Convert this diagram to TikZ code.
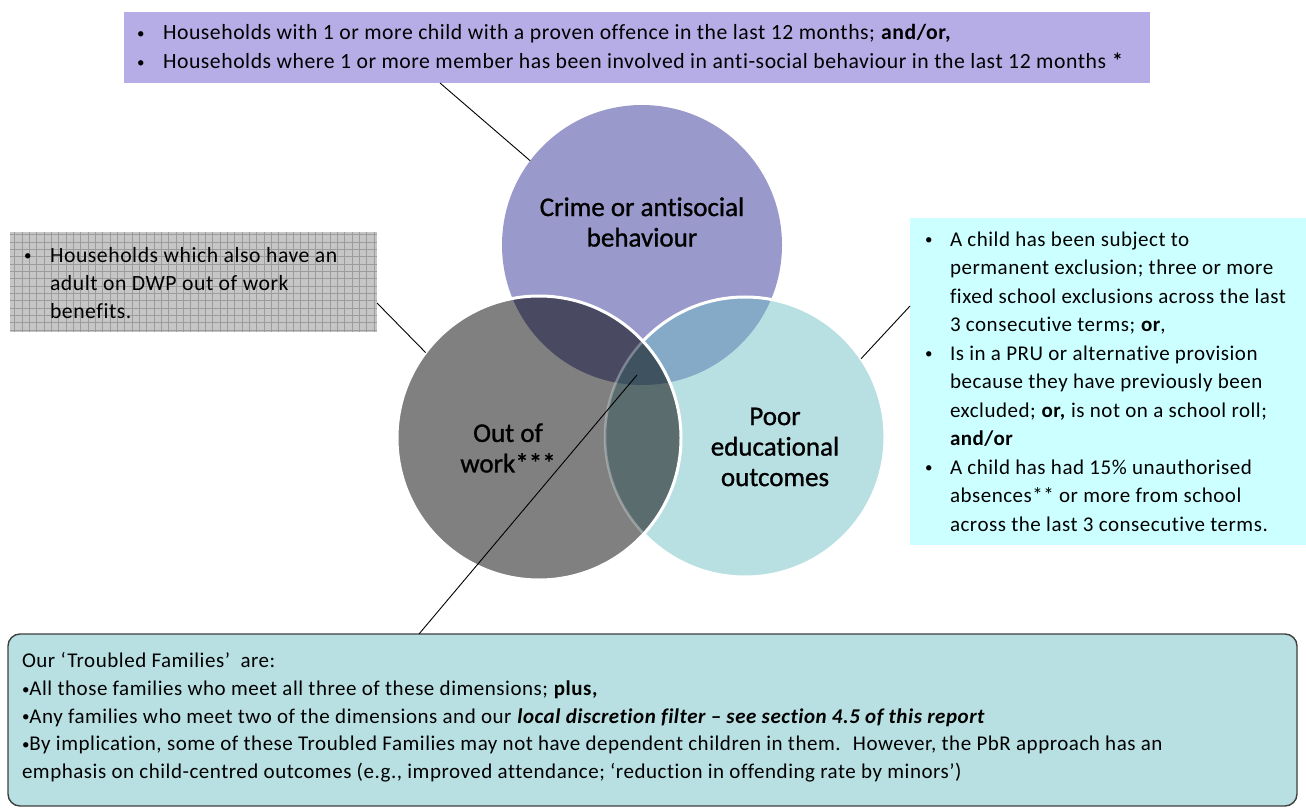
\documentclass[tikz,border=0pt]{standalone}
\usepackage{fontspec}
\setmainfont{Carlito}[LetterSpace=2.5, Ligatures=NoCommon]
\newfontfamily\circfont[FakeBold=1, Ligatures=NoCommon]{Carlito}
\definecolor{topcol}{HTML}{B6ADE6}
\definecolor{crimecol}{HTML}{9A99CB}
\definecolor{outcol}{HTML}{808080}
\definecolor{poorcol}{HTML}{B8E0E3}
\definecolor{cocol}{HTML}{4A4962}
\definecolor{cpcol}{HTML}{84AAC8}
\definecolor{opcol}{HTML}{5B6C6E}
\definecolor{tricol}{HTML}{3E5260}
\definecolor{cyancol}{HTML}{CCFFFF}
\definecolor{botcol}{HTML}{B8E0E3}
\definecolor{bordcol}{HTML}{404040}
\definecolor{leftcol}{HTML}{C6C6C6}
\definecolor{gridcol}{HTML}{9C9C9C}
\newcommand\bul{{\fontsize{15}{15}\selectfont\raisebox{1.2pt}{•}}}
\begin{document}
\begin{tikzpicture}[x=1pt,y=-1pt,
  every node/.style={inner sep=0pt, outer sep=0pt},
  boxtext/.style={anchor=north west, align=left, font=\fontsize{21}{28.5}\selectfont},
  circtext/.style={align=center, font=\circfont\fontsize{27}{30.5}\selectfont},
  conn/.style={draw=black, line width=0.9pt}]
\useasboundingbox (0,0) rectangle (1306,810);
\fill[white] (0,0) rectangle (1306,810);

% circle anchors
\node[circle, minimum size=280pt] (crime) at (642,245) {};
\node[circle, minimum size=284pt] (out) at (539,438) {};
\node[circle, minimum size=280pt] (poor) at (745,437) {};
\def\crimec{(642,245) circle[radius=140pt]}
\def\outc{(539,438) circle[radius=142pt]}
\def\poorc{(745,437) circle[radius=140pt]}

\fill[crimecol] \crimec;
\fill[poorcol] \poorc;
\begin{scope}\clip \poorc; \fill[cpcol] \crimec; \end{scope}
\draw[white, line width=3pt] \poorc;
\fill[outcol] \outc;
\begin{scope}\clip \outc;
  \fill[cocol] \crimec;
  \fill[opcol] \poorc;
  \begin{scope}\clip \crimec; \fill[tricol] \poorc; \end{scope}
  \draw[white, opacity=0.3, line width=2.5pt] \poorc;
\end{scope}
\draw[white, line width=3pt] \outc;

\node[circtext] (crimelbl) at (642,222) {Crime or antisocial\\behaviour};
\node[circtext] (outlbl) at (508,448) {Out of\\work***};
\node[circtext] (poorlbl) at (775,447) {Poor\\educational\\outcomes};

% top box
\node[fill=topcol, minimum width=1026pt, minimum height=71pt, anchor=north west] (topbox) at (124,12) {};
\node[boxtext, font=\fontsize{21.7}{29}\selectfont] (toptext) at (137,24) {\makebox[26pt][l]{\bul}Households with 1 or more child with a proven offence in the last 12 months; \textbf{and/or,}\\
\makebox[26pt][l]{\bul}Households where 1 or more member has been involved in anti-social behaviour in the last 12 months \textbf{*}};

% left box
\node[fill=leftcol, minimum width=367pt, minimum height=100pt, anchor=north west] (leftbox) at (10,232) {};
\begin{scope}
  \clip (10,232) rectangle (377,332);
  \draw[gridcol, line width=0.6pt, xstep=7.33pt, ystep=7.33pt] (10,232) grid (377,332);
\end{scope}
\node[boxtext, font=\fontsize{21.7}{28}\selectfont] (lefttext) at (24,247) {\makebox[26pt][l]{\bul}Households which also have an\\\hspace*{26pt}adult on DWP out of work\\\hspace*{26pt}benefits.};

% right box
\node[fill=cyancol, minimum width=396pt, minimum height=327pt, anchor=north west] (rightbox) at (910,218) {};
\node[boxtext] (righttext) at (925,231.5) {%
\makebox[25pt][l]{\bul}A child has been subject to\\\hspace*{25pt}permanent exclusion; three or more\\\hspace*{25pt}fixed school exclusions across the last\\\hspace*{25pt}3 consecutive terms; \textbf{or},\\
\makebox[25pt][l]{\bul}Is in a PRU or alternative provision\\\hspace*{25pt}because they have previously been\\\hspace*{25pt}excluded; \textbf{or,} is not on a school roll;\\\hspace*{25pt}\textbf{and/or}\\
\makebox[25pt][l]{\bul}A child has had 15\% unauthorised\\\hspace*{25pt}absences** or more from school\\\hspace*{25pt}across the last 3 consecutive terms.};

% bottom box
\node[draw=bordcol, line width=1.4pt, fill=botcol, rounded corners=12pt, minimum width=1289pt, minimum height=172pt, anchor=north west] (botbox) at (8,634) {};
\node[boxtext, font=\fontsize{21}{27.7}\selectfont] (bottext) at (22,652.5) {Our ‘Troubled Families’~ are:\\
\bul All those families who meet all three of these dimensions; \textbf{plus,}\\
\bul Any families who meet two of the dimensions and our \textbf{\textit{local discretion filter – see section 4.5 of this report}}\\
\bul By implication, some of these Troubled Families may not have dependent children in them.~ However, the PbR approach has an\\
emphasis on child-centred outcomes (e.g., improved attendance; ‘reduction in offending rate by minors’)};

% connectors
\coordinate (t1) at (440,83);
\coordinate (l1) at (377,303);
\coordinate (r1) at (910,306);
\coordinate (b1) at (419,634);
\coordinate (b2) at (637,375);
\draw[conn] (t1) -- (crime.143);
\draw[conn] (l1) -- (out.143);
\draw[conn] (r1) -- (poor.34);
\draw[conn] (b1) -- (b2);
\end{tikzpicture}
\end{document}
